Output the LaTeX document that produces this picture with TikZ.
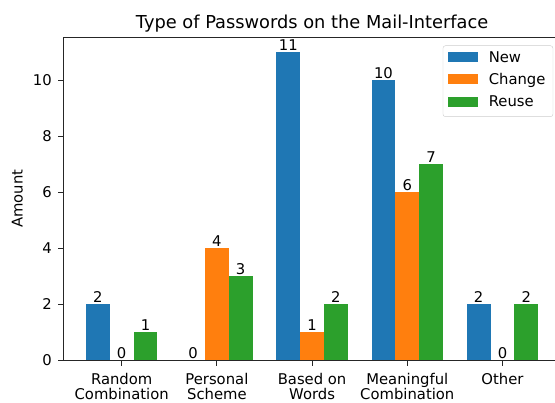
\documentclass[tikz,border=0pt]{standalone}
\usepackage{fontspec}
\setmainfont{DejaVu Sans}
\definecolor{barnew}{HTML}{1F77B4}
\definecolor{barchange}{HTML}{FF7F0E}
\definecolor{barreuse}{HTML}{2CA02C}
\begin{document}
\begin{tikzpicture}[x=95.2bp, y=28bp,
    every node/.style={inner sep=0pt, font=\fontsize{14.8bp}{15bp}\selectfont},
    barlab/.style={anchor=south, yshift=2bp},
    ticklab/.style={anchor=north, align=center},
    numlab/.style={anchor=east},
    spine/.style={black!85, line width=1.1bp}]
    \useasboundingbox (-1.2784,-1.518) rectangle (4.5515,12.875);
    % Group 1: Random Combination
    \fill[barnew] (-0.375,0) rectangle (-0.125,2);
    \fill[barreuse] (0.125,0) rectangle (0.375,1);
    \node[barlab] (v1n) at (-0.25,2) {2};
    \node[barlab] (v1c) at (0,0) {0};
    \node[barlab] (v1r) at (0.25,1) {1};
    % Group 2: Personal Scheme
    \fill[barchange] (0.875,0) rectangle (1.125,4);
    \fill[barreuse] (1.125,0) rectangle (1.375,3);
    \node[barlab] (v2n) at (0.75,0) {0};
    \node[barlab] (v2c) at (1,4) {4};
    \node[barlab] (v2r) at (1.25,3) {3};
    % Group 3: Based on Words
    \fill[barnew] (1.625,0) rectangle (1.875,11);
    \fill[barchange] (1.875,0) rectangle (2.125,1);
    \fill[barreuse] (2.125,0) rectangle (2.375,2);
    \node[barlab] (v3n) at (1.75,11) {11};
    \node[barlab] (v3c) at (2,1) {1};
    \node[barlab] (v3r) at (2.25,2) {2};
    % Group 4: Meaningful Combination
    \fill[barnew] (2.625,0) rectangle (2.875,10);
    \fill[barchange] (2.875,0) rectangle (3.125,6);
    \fill[barreuse] (3.125,0) rectangle (3.375,7);
    \node[barlab] (v4n) at (2.75,10) {10};
    \node[barlab] (v4c) at (3,6) {6};
    \node[barlab] (v4r) at (3.25,7) {7};
    % Group 5: Other
    \fill[barnew] (3.625,0) rectangle (3.875,2);
    \fill[barreuse] (4.125,0) rectangle (4.375,2);
    \node[barlab] (v5n) at (3.75,2) {2};
    \node[barlab] (v5c) at (4,0) {0};
    \node[barlab] (v5r) at (4.25,2) {2};
    % axes (right side is cut off)
    \draw[spine] (4.56,0) -- (-0.6125,0) -- (-0.6125,11.55) -- (4.56,11.55);
    \draw[spine] (0,0) -- ++(0,-0.18);
    \draw[spine] (1,0) -- ++(0,-0.18);
    \draw[spine] (2,0) -- ++(0,-0.18);
    \draw[spine] (3,0) -- ++(0,-0.18);
    \draw[spine] (4,0) -- ++(0,-0.18);
    \node[ticklab] (x1) at (0,-0.436) {Random\\Combination};
    \node[ticklab] (x2) at (1,-0.436) {Personal\\Scheme};
    \node[ticklab] (x3) at (2,-0.436) {Based on\\Words};
    \node[ticklab] (x4) at (3,-0.436) {Meaningful\\Combination};
    \node[ticklab] (x5) at (4,-0.436) {Other};
    \draw[spine] (-0.6125,0) -- ++(-0.0525,0);
    \draw[spine] (-0.6125,2) -- ++(-0.0525,0);
    \draw[spine] (-0.6125,4) -- ++(-0.0525,0);
    \draw[spine] (-0.6125,6) -- ++(-0.0525,0);
    \draw[spine] (-0.6125,8) -- ++(-0.0525,0);
    \draw[spine] (-0.6125,10) -- ++(-0.0525,0);
    \node[numlab] (y0) at (-0.732,0) {0};
    \node[numlab] (y2) at (-0.732,2) {2};
    \node[numlab] (y4) at (-0.732,4) {4};
    \node[numlab] (y6) at (-0.732,6) {6};
    \node[numlab] (y8) at (-0.732,8) {8};
    \node[numlab] (y10) at (-0.732,10) {10};
    \node[rotate=90, anchor=base] (ylab) at (-1.04,5.775) {Amount};
    \node[anchor=base, font=\fontsize{17.8bp}{20bp}\selectfont] (title) at (2,11.864) {Type of Passwords on the Mail-Interface};
    % legend
    \draw[black!20, fill=white, rounded corners=2.5bp] (3.375,8.707) rectangle (4.53,11.243);
    \fill[barnew] (3.424,10.65) rectangle (3.740,11.007);
    \fill[barchange] (3.424,9.864) rectangle (3.740,10.221);
    \fill[barreuse] (3.424,9.064) rectangle (3.740,9.421);
    \node[anchor=base west] (lnew) at (3.854,10.636) {New};
    \node[anchor=base west] (lchange) at (3.854,9.864) {Change};
    \node[anchor=base west] (lreuse) at (3.854,9.064) {Reuse};
\end{tikzpicture}
\end{document}
